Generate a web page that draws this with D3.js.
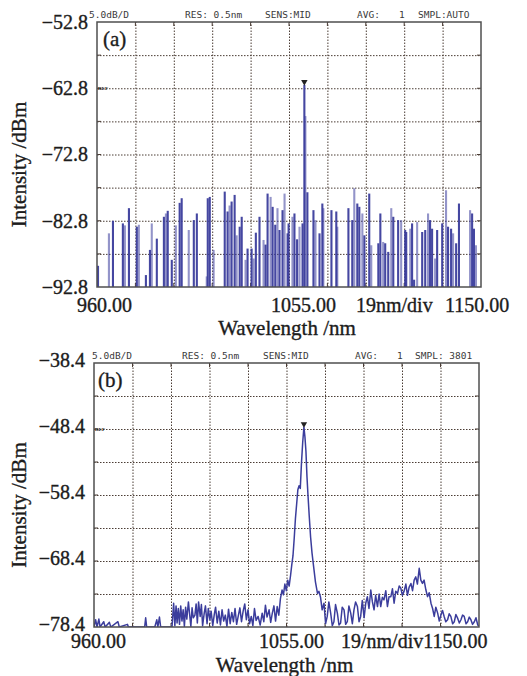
<!DOCTYPE html>
<html>
<head>
<meta charset="utf-8">
<script src="https://cdn.jsdelivr.net/npm/d3@7/dist/d3.min.js"></script>
<style>
body { margin: 0; background: #fff; }
svg text { font-family: "Liberation Serif", "Times New Roman", serif; fill: #1c1c1c; }
.lbl { stroke: #1c1c1c; stroke-width: 0.35px; }
.hdr text { font-family: "DejaVu Sans Mono", monospace; font-size: 9.5px; fill: #3a3a3a; }
.grid line { stroke: #4a3c34; stroke-width: 1; stroke-dasharray: 1.5 1.5; }
</style>
</head>
<body>
<svg id="fig" width="527" height="676"></svg>
<script>
// shared wavelength axis, nm
const wlDomain = [960, 1150];
const wlStep = 19;

// panel (a) - pulsed/spiky spectrum
const aLevels = [-92.8, -82.8, -72.8, -62.8, -52.8];
const aHeader = ['5.0dB/D', 'RES: 0.5nm', 'SENS:MID', 'AVG:', '1', 'SMPL:AUTO'];
const aTickLabels = ['960.00', '1055.00', '19nm/div', '1150.00'];
// [wavelength nm, dBm] - top of each spike
const aSpikes = [
  [960.5,-89.6],[965.9,-84.7],[967.9,-82.8],[972.8,-83.2],[973.8,-83.5],[975.8,-80.9],[979.7,-83.7],[980.7,-83.4],
  [984.2,-91.0],[986.2,-87.2],[987.1,-83.2],[989.6,-85.5],[993.1,-82.2],[994.1,-81.7],[995.0,-81.3],[997.0,-88.7],
  [999.0,-83.5],[1000.9,-80.1],[1001.9,-79.4],[1005.4,-84.2],[1007.9,-82.7],[1009.4,-81.7],[1014.3,-91.2],[1014.8,-79.4],
  [1015.8,-79.2],[1017.7,-87.2],[1023.2,-78.4],[1024.6,-81.4],[1025.6,-80.5],[1026.6,-79.9],[1028.1,-78.9],[1029.1,-85.0],
  [1030.6,-83.7],[1031.6,-82.2],[1033.5,-88.7],[1034.5,-87.0],[1036.5,-87.0],[1037.5,-88.5],[1038.6,-84.6],[1040.4,-82.2],
  [1042.4,-85.7],[1043.4,-86.4],[1044.4,-78.7],[1045.9,-79.2],[1046.9,-80.7],[1048.2,-83.4],[1049.3,-80.9],[1050.3,-84.2],
  [1051.8,-81.2],[1052.8,-78.7],[1054.3,-84.7],[1054.8,-83.2],[1056.7,-82.2],[1057.7,-81.7],[1059.0,-85.6],[1060.2,-83.7],
  [1061.7,-83.2],[1062.6,-62.3],[1063.1,-67.0],[1064.1,-78.5],[1067.1,-81.2],[1068.1,-82.7],[1070.1,-84.7],[1071.5,-80.2],
  [1072.0,-80.9],[1076.0,-81.2],[1078.4,-81.4],[1078.9,-83.7],[1084.4,-80.9],[1086.3,-82.7],[1087.3,-77.9],[1088.8,-80.2],
  [1089.8,-80.7],[1091.3,-81.7],[1092.3,-85.0],[1094.7,-78.7],[1095.7,-86.5],[1099.2,-86.2],[1100.2,-81.7],[1101.6,-86.0],
  [1102.6,-86.2],[1104.1,-87.5],[1105.6,-80.9],[1106.6,-82.2],[1109.0,-82.7],[1110.5,-82.7],[1112.5,-84.2],[1113.0,-84.5],
  [1115.0,-84.0],[1115.9,-83.2],[1116.9,-91.7],[1118.4,-83.0],[1120.9,-84.5],[1122.4,-84.2],[1123.8,-81.7],[1124.8,-82.7],
  [1125.8,-84.0],[1127.3,-88.5],[1128.3,-84.2],[1130.8,-83.2],[1132.7,-78.2],[1133.7,-83.7],[1135.2,-84.0],[1136.2,-84.7],
  [1137.7,-86.2],[1139.1,-80.2],[1144.6,-81.2],[1145.6,-81.7],[1146.5,-84.0],[1147.5,-86.5]
];

// panel (b) - continuous trace
const bLevels = [-78.4, -68.4, -58.4, -48.4, -38.4];
const bHeader = ['5.0dB/D', 'RES: 0.5nm', 'SENS:MID', 'AVG:', '1', 'SMPL: 3801'];
const bTickLabels = ['960.00', '1055.00', '19/nm/div1150.00'];
// [wavelength nm, dBm]
const bTrace = [
  [960.0,-78.4],[960.8,-77.3],[961.5,-78.4],[962.4,-77.2],[963.0,-78.4],[964.8,-77.6],[965.5,-78.4],[967.6,-77.7],
  [968.3,-78.4],[971.8,-77.6],[972.5,-78.4],[976.5,-78.0],[977.0,-78.4],[985.0,-78.4],[985.5,-77.0],[986.0,-78.4],
  [990.0,-78.4],[991.0,-77.3],[991.5,-78.4],[992.3,-76.9],[992.9,-78.4],[998.5,-78.4],
  [999.3,-74.8],[999.9,-78.2],[1000.5,-75.2],[1001.0,-77.8],[1001.6,-75.6],[1002.2,-78.0],[1002.8,-75.2],[1003.4,-77.5],
  [1004.0,-75.8],[1004.6,-78.3],[1005.2,-75.4],[1005.8,-77.2],[1006.6,-74.6],[1007.2,-76.5],[1007.8,-78.3],[1008.4,-75.5],
  [1009.0,-77.0],[1009.8,-76.6],[1010.4,-74.9],[1011.0,-77.8],[1011.6,-74.6],[1012.4,-76.8],[1013.0,-75.0],[1013.6,-78.2],
  [1014.4,-76.3],[1015.0,-75.2],[1015.8,-77.9],[1016.4,-75.6],[1017.2,-77.3],[1017.8,-76.0],[1018.6,-78.2],[1019.4,-76.4],
  [1020.0,-75.4],[1020.8,-77.8],[1021.6,-76.0],[1022.4,-78.1],[1023.2,-75.8],[1024.0,-77.5],[1024.8,-76.6],[1025.6,-78.3],
  [1026.4,-75.7],[1027.2,-77.9],[1028.0,-76.2],[1028.8,-77.6],[1029.6,-75.6],[1030.4,-78.0],[1031.2,-76.7],[1032.0,-75.5],
  [1032.8,-77.6],[1033.6,-76.0],[1034.4,-74.9],[1035.2,-77.3],[1036.0,-75.8],[1036.8,-77.9],[1037.6,-76.8],[1038.4,-78.2],
  [1039.2,-75.6],[1040.0,-77.4],[1041.0,-76.8],[1042.0,-78.1],[1043.0,-76.3],[1043.8,-77.6],[1044.6,-75.1],[1045.4,-76.9],
  [1046.4,-75.8],[1047.2,-77.7],[1048.0,-76.3],[1048.8,-75.2],[1049.6,-77.5],[1050.4,-75.3],[1051.2,-76.6],[1052.0,-74.1],
  [1052.8,-72.8],[1053.5,-73.5],[1054.2,-71.9],[1054.9,-72.9],[1055.6,-71.3],[1056.3,-72.2],[1057.0,-70.6],[1057.6,-69.0],
  [1058.2,-67.6],[1058.8,-65.0],[1059.4,-62.0],[1060.0,-59.8],[1060.6,-57.6],[1061.2,-57.0],[1061.8,-57.4],[1062.4,-53.5],
  [1063.0,-50.4],[1063.6,-48.1],[1064.1,-49.6],[1064.6,-51.8],[1065.1,-55.6],[1065.6,-58.4],[1066.2,-61.5],[1066.9,-64.8],
  [1067.6,-67.2],[1068.4,-69.3],[1069.3,-71.6],[1070.3,-73.3],[1071.0,-73.0],
  [1071.8,-73.9],[1072.6,-75.8],[1073.5,-74.8],[1074.3,-77.9],[1075.1,-76.8],[1075.9,-74.6],[1076.8,-76.3],[1077.6,-78.2],
  [1078.4,-77.6],[1079.2,-75.0],[1080.1,-76.3],[1080.9,-78.1],[1081.7,-77.8],[1082.5,-75.4],[1083.4,-75.8],[1084.2,-78.0],
  [1085.0,-77.6],[1085.8,-75.2],[1086.7,-76.3],[1087.5,-77.9],[1088.3,-75.8],[1089.1,-74.6],[1090.0,-75.3],[1090.8,-77.6],
  [1091.6,-76.8],[1092.4,-74.4],[1093.3,-77.0],[1094.1,-74.8],[1094.9,-73.8],[1095.7,-75.6],[1096.6,-72.8],[1097.4,-74.6],
  [1098.2,-75.8],[1099.0,-73.6],[1099.9,-75.3],[1100.7,-73.4],[1101.5,-75.3],[1102.3,-73.9],[1103.1,-74.3],[1104.0,-72.9],
  [1104.8,-75.3],[1105.6,-73.8],[1106.5,-73.8],[1107.3,-72.6],[1108.1,-74.8],[1108.9,-73.0],[1109.8,-73.3],[1110.6,-72.2],
  [1111.4,-72.5],[1112.2,-73.6],[1113.0,-73.0],[1113.9,-71.9],[1114.7,-73.6],[1115.5,-72.4],[1116.4,-71.8],[1117.2,-72.9],
  [1118.0,-71.3],[1118.8,-70.8],[1119.6,-71.9],[1120.5,-69.5],[1121.3,-71.3],[1122.1,-71.8],[1122.9,-71.3],[1123.8,-72.8],
  [1124.6,-73.8],[1125.4,-73.2],[1126.3,-74.8],[1127.1,-75.6],[1127.9,-76.8],[1128.7,-75.4],[1129.6,-76.3],[1130.4,-77.5],
  [1131.2,-76.6],[1132.0,-75.9],[1132.8,-76.8],[1133.6,-77.6],[1134.5,-77.3],[1135.3,-76.4],[1136.1,-76.8],[1137.0,-77.9],
  [1137.8,-77.6],[1138.6,-76.5],[1139.5,-77.1],[1140.3,-77.8],[1141.1,-77.3],[1141.9,-76.6],[1142.7,-76.8],[1143.6,-77.9],
  [1144.4,-77.6],[1145.2,-76.9],[1146.0,-77.3],[1146.8,-78.0],[1147.7,-77.6],[1148.5,-77.0],[1149.4,-78.1],[1150.0,-78.3]
];

const traceColor = '#3b3d9c';
const svg = d3.select('#fig');

function spectrumPanel(opt) {
    const box = opt.box;
    const g = svg.append('g').attr('transform', `translate(${box.x}, ${box.y})`);
    const x = d3.scaleLinear().domain(wlDomain).range([0, box.w]);
    const y = d3.scaleLinear().domain([opt.levels[0], opt.levels[opt.levels.length - 1]]).range([box.h, 0]);

    const xGrid = d3.range(wlDomain[0] + wlStep, wlDomain[1] - 1, wlStep);
    const yGrid = d3.range(opt.levels[0] + 5, opt.levels[opt.levels.length - 1] - 0.1, 5);

    // dotted grid via the axes
    g.append('g').classed('grid', true)
        .attr('transform', `translate(0, ${box.h})`)
        .call(d3.axisBottom(x).tickValues(xGrid).tickSize(-box.h).tickFormat(''))
        .call(s => s.select('.domain').remove());
    g.append('g').classed('grid', true)
        .call(d3.axisLeft(y).tickValues(yGrid).tickSize(-box.w).tickFormat(''))
        .call(s => s.select('.domain').remove());

    // short solid ticks on the frame
    const edge = g.append('g').attr('stroke', '#4a3c34').attr('stroke-width', 1);
    xGrid.forEach(v => {
        edge.append('line').attr('x1', x(v)).attr('x2', x(v)).attr('y1', 0).attr('y2', 4);
        edge.append('line').attr('x1', x(v)).attr('x2', x(v)).attr('y1', box.h).attr('y2', box.h - 4);
    });
    yGrid.forEach(v => {
        edge.append('line').attr('x1', 0).attr('x2', 4).attr('y1', y(v)).attr('y2', y(v));
        edge.append('line').attr('x1', box.w).attr('x2', box.w - 4).attr('y1', y(v)).attr('y2', y(v));
    });

    const clipId = 'clip-' + opt.tag;
    g.append('clipPath').attr('id', clipId)
        .append('rect').attr('width', box.w).attr('height', box.h);
    const plot = g.append('g').attr('clip-path', `url(#${clipId})`);

    let peak;
    if (opt.spikes) {
        plot.selectAll('line.spike').data(opt.spikes).join('line')
            .classed('spike', true)
            .attr('x1', d => x(d[0])).attr('x2', d => x(d[0]))
            .attr('y1', box.h).attr('y2', d => y(d[1]))
            .attr('stroke', traceColor)
            .attr('stroke-width', 2.1)
            .attr('stroke-opacity', (d, i) => i % 3 === 1 ? 0.55 : 0.95);
        peak = d3.greatest(opt.spikes, d => d[1]);
    } else {
        const line = d3.line().x(d => x(d[0])).y(d => y(d[1]));
        plot.append('path').datum(opt.trace)
            .attr('d', line)
            .attr('fill', 'none')
            .attr('stroke', traceColor)
            .attr('stroke-width', 1.5)
            .attr('stroke-linejoin', 'round');
        peak = d3.greatest(opt.trace, d => d[1]);
    }

    // frame
    g.append('rect').attr('width', box.w).attr('height', box.h)
        .attr('fill', 'none').attr('stroke', '#4f4f4f').attr('stroke-width', 1.5);

    // peak marker
    g.append('path')
        .attr('d', d3.symbol(d3.symbolTriangle).size(18))
        .attr('transform', `translate(${x(peak[0])}, ${y(peak[1]) - 3}) rotate(180)`)
        .attr('fill', '#222');

    // REF mark on the reference level
    g.append('text').attr('x', 1).attr('y', y(opt.levels[3]) + 2)
        .attr('font-size', 5).attr('font-family', 'DejaVu Sans').attr('font-weight', 'bold')
        .text('REF');

    // panel tag
    g.append('text').classed('lbl', true)
        .attr('x', opt.tagPos[0]).attr('y', opt.tagPos[1])
        .attr('font-size', 21).text(`(${opt.tag})`);

    // y labels
    g.append('g')
        .attr('transform', `translate(0, ${opt.yLabelShift})`)
        .call(d3.axisLeft(y).tickValues(opt.levels).tickSize(0).tickPadding(9)
            .tickFormat(d => d.toFixed(1).replace('-', '\u2212')))
        .call(s => s.select('.domain').remove())
        .selectAll('text')
        .classed('lbl', true)
        .attr('font-size', 20)
        .attr('font-family', '"Liberation Serif", serif')
        .attr('fill', '#1c1c1c');

    // header line of the analyser
    const hdr = svg.append('g').classed('hdr', true);
    opt.header.forEach((t, i) => {
        hdr.append('text').attr('x', opt.headerX[i]).attr('y', box.y - 4).text(t);
    });

    // wavelength labels
    opt.xLabels.forEach((t, i) => {
        svg.append('text').classed('lbl', true)
            .attr('x', opt.xLabelX[i]).attr('y', opt.xLabelY)
            .attr('font-size', 20).text(t);
    });

    svg.append('text').classed('lbl', true)
        .attr('x', box.x + box.w / 2 - 2).attr('y', opt.titleY)
        .attr('text-anchor', 'middle').attr('font-size', 21)
        .text('Wavelength /nm');

    svg.append('text').classed('lbl', true)
        .attr('transform', `translate(26, ${box.y + box.h / 2 + 10}) rotate(-90)`)
        .attr('text-anchor', 'middle').attr('font-size', 21)
        .text('Intensity /dBm');
}

spectrumPanel({
    tag: 'a',
    box: {x: 97, y: 22, w: 384, h: 265},
    levels: aLevels,
    spikes: aSpikes,
    header: aHeader,
    headerX: [89, 185, 265, 357, 399, 418],
    tagPos: [6, 24],
    yLabelShift: 0,
    xLabels: aTickLabels,
    xLabelX: [77, 271, 356, 445],
    xLabelY: 312,
    titleY: 335
});

spectrumPanel({
    tag: 'b',
    box: {x: 94, y: 363, w: 385, h: 264},
    levels: bLevels,
    trace: bTrace,
    header: bHeader,
    headerX: [92, 182, 263, 355, 397, 415],
    tagPos: [4, 24],
    yLabelShift: -3,
    xLabels: bTickLabels,
    xLabelX: [71, 259, 341],
    xLabelY: 648,
    titleY: 672
});
</script>
</body>
</html>
